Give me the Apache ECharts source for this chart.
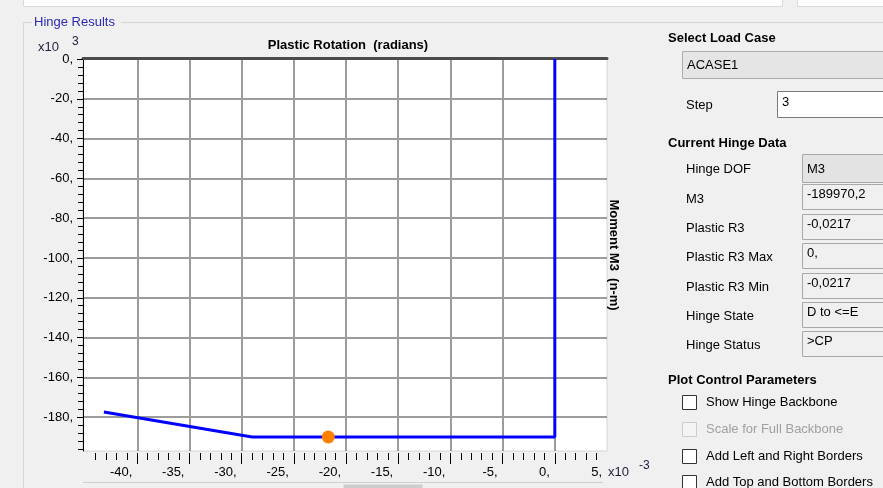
<!DOCTYPE html>
<html>
<head>
<meta charset="utf-8">
<script src="https://cdn.jsdelivr.net/npm/echarts@6/dist/echarts.min.js"></script>
<style>
  html, body { margin: 0; padding: 0; background: #f0f0f0; }
  #chart { width: 883px; height: 488px; }
</style>
</head>
<body>
<div id="chart"></div>
<script>
// Hinge response path (plastic rotation in 1e-3 rad, moment in 1e3 N-m)
const rotationPath = [0, 0, -29.0, -43.2];
const momentPath = [0, -189.97, -189.97, -177.4];

// Current step state of the hinge
const currentRotation = [-21.7];
const currentMoment = [-189.9702];

// Axis ticks
const xMajorTicks = [-40, -35, -30, -25, -20, -15, -10, -5, 0];
const xLabelValues = [-40, -35, -30, -25, -20, -15, -10, -5, 0, 5];
const yMajorTicks = [0, -20, -40, -60, -80, -100, -120, -140, -160, -180];

// Side panel contents
const loadCase = 'ACASE1';
const stepValue = '3';
const hingeFieldLabels = ['Hinge DOF', 'M3', 'Plastic R3', 'Plastic R3 Max', 'Plastic R3 Min', 'Hinge State', 'Hinge Status'];
const hingeFieldValues = ['M3', '-189970,2', '-0,0217', '0,', '-0,0217', 'D to <=E', '>CP'];
const plotOptions = ['Show Hinge Backbone', 'Scale for Full Backbone', 'Add Left and Right Borders', 'Add Top and Bottom Borders'];
const plotOptionsEnabled = [true, false, true, true];

function range(from, to, step) {
  const out = [];
  for (let v = from; step > 0 ? v <= to : v >= to; v += step) out.push(v);
  return out;
}
const xMinorTicks = range(-44, 4, 1);
const yMinorTicks = range(0, -196, -4);

const FONT = '"Liberation Sans", Arial, sans-serif';
const font = (size, bold) => (bold ? 'bold ' : '') + size + 'px ' + FONT;

const chart = echarts.init(document.getElementById('chart'), null, { renderer: 'canvas' });

const linePoints = rotationPath.map((r, i) => [r, momentPath[i]]);
const currentPoints = currentRotation.map((r, i) => [r, currentMoment[i]]);

// ---------- dialog chrome drawn around the plot ----------
const g = [];
function text(str, x, y, opts) {
  g.push(Object.assign({
    type: 'text', z: 50, silent: true,
    style: Object.assign({
      text: str, x: x, y: y, font: font(13, false), fill: '#000',
      textAlign: 'left', textVerticalAlign: 'middle'
    }, opts || {})
  }));
}
function rect(x, y, w, h, fill, stroke, z) {
  g.push({
    type: 'rect', z: z || 40, silent: true,
    shape: { x: x + 0.5, y: y + 0.5, width: w, height: h },
    style: { fill: fill, stroke: stroke || null, lineWidth: 1 }
  });
}
function line(x1, y1, x2, y2, color, w) {
  g.push({
    type: 'line', z: 40, silent: true,
    shape: { x1: x1, y1: y1, x2: x2, y2: y2 },
    style: { stroke: color, lineWidth: w || 1 }
  });
}

// strip of controls above the group box
rect(23, -1, 759, 7, '#ffffff', '#d9d9d9', 5);
rect(797, -1, 90, 7, '#ffffff', '#d9d9d9', 5);

// group box frame
line(23.5, 22.5, 32, 22.5, '#d5d5d5');
line(121, 22.5, 883, 22.5, '#d5d5d5');
line(23.5, 22.5, 23.5, 488, '#d5d5d5');
text('Hinge Results', 34, 22, { fill: '#2a2ab4', font: font(13, false) });

// plot captions
text('x10', 38, 47, { fill: '#1e1e3c' });
text('3', 72, 42, { fill: '#1e1e3c', font: font(12, false) });
text('x10', 608, 472, { fill: '#1e1e3c' });
text('-3', 639, 466, { fill: '#1e1e3c', font: font(12, false) });
g.push({
  type: 'text', z: 50, silent: true, x: 614, y: 255, rotation: -Math.PI / 2,
  style: { text: 'Moment M3  (n-m)', x: 0, y: 0, font: font(13, true), fill: '#000',
           textAlign: 'center', textVerticalAlign: 'middle' }
});

// horizontal scrollbar under the plot
line(83, 482.5, 603, 482.5, '#d0d0d0');
rect(343, 484, 79, 6, '#cdcdcd', null);

// side panel
text('Select Load Case', 668, 38, { font: font(13, true) });
rect(682, 51, 210, 27, '#e5e5e5', '#adadad');
text(loadCase, 687, 65);
text('Step', 686, 105);
rect(777, 91, 120, 26, '#ffffff', '#7a7a7a');
text(stepValue, 782, 102);

text('Current Hinge Data', 668, 143, { font: font(13, true) });
const rowLabelY = [169, 199, 228, 257, 287, 316, 345];
const rowBoxTop = [154, 184, 214, 243, 273, 302, 331];
hingeFieldLabels.forEach((lab, i) => {
  text(lab, 686, rowLabelY[i]);
  const first = i === 0;
  rect(802, rowBoxTop[i], 100, first ? 28 : 25, first ? '#e3e3e3' : '#f0f0f0', '#a8a8a8');
  text(hingeFieldValues[i], 807, first ? rowLabelY[i] : rowBoxTop[i] + 10);
});

text('Plot Control Parameters', 668, 380, { font: font(13, true) });
const optTextY = [402, 429, 456, 482];
plotOptions.forEach((lab, i) => {
  const on = plotOptionsEnabled[i];
  rect(682, optTextY[i] - 7, 14, 14, on ? '#ffffff' : '#f4f4f4', on ? '#333333' : '#cccccc');
  text(lab, 706, optTextY[i], { fill: on ? '#000' : '#a0a0a0' });
});

// ---------- chart ----------
const tickLabelStyle = { color: '#000', fontFamily: FONT, fontSize: 13 };

const option = {
  animation: false,
  backgroundColor: '#f0f0f0',
  title: {
    text: 'Plastic Rotation  (radians)',
    left: 343, top: 34, textAlign: 'center',
    textStyle: { fontFamily: FONT, fontSize: 13, fontWeight: 'bold', color: '#000' }
  },
  grid: {
    left: 83, top: 59, width: 524, height: 392,
    show: true, backgroundColor: '#ffffff', borderColor: '#d4d4d4', borderWidth: 1
  },
  xAxis: [
    {
      type: 'value', position: 'bottom', min: -45.2, max: 5, offset: 2,
      axisLine: { show: false, onZero: false },
      axisTick: { show: true, inside: false, length: 11, customValues: xMajorTicks,
                  lineStyle: { color: '#000', width: 1 } },
      axisLabel: Object.assign({ customValues: xLabelValues, margin: 13, align: 'right',
                  padding: [0, 5, 0, 0], formatter: v => v + ',' }, tickLabelStyle),
      splitLine: { show: true, lineStyle: { color: '#9c9c9c', width: 2 } }
    },
    {
      type: 'value', position: 'bottom', min: -45.2, max: 5, offset: 2,
      axisLine: { show: false, onZero: false },
      axisTick: { show: true, inside: false, length: 7, customValues: xMinorTicks,
                  lineStyle: { color: '#000', width: 1 } },
      axisLabel: { show: false },
      splitLine: { show: false }
    },
    {
      type: 'value', position: 'top', min: -45.2, max: 5, offset: 1,
      axisLine: { show: true, onZero: false, lineStyle: { color: '#4c4c4c', width: 3 } },
      axisTick: { show: false }, axisLabel: { show: false }, splitLine: { show: false }
    }
  ],
  yAxis: [
    {
      type: 'value', position: 'left', min: -197, max: 0,
      axisLine: { show: true, onZero: false, lineStyle: { color: '#000', width: 1 } },
      axisTick: { show: true, inside: false, length: 6, customValues: yMajorTicks,
                  lineStyle: { color: '#000', width: 1 } },
      axisLabel: Object.assign({ customValues: yMajorTicks, margin: 10,
                  padding: [6, 0, 0, 0], formatter: v => v + ',' }, tickLabelStyle),
      splitLine: { show: true, lineStyle: { color: '#9c9c9c', width: 2 } }
    },
    {
      type: 'value', position: 'left', min: -197, max: 0,
      axisLine: { show: false, onZero: false },
      axisTick: { show: true, inside: false, length: 5, customValues: yMinorTicks,
                  lineStyle: { color: '#000', width: 1 } },
      axisLabel: { show: false },
      splitLine: { show: false }
    }
  ],
  series: [
    {
      name: 'Hinge path', type: 'line', xAxisIndex: 0, yAxisIndex: 0,
      data: linePoints, symbol: 'none', z: 3,
      lineStyle: { color: '#0000ff', width: 3 }
    },
    {
      name: 'Current step', type: 'scatter', xAxisIndex: 0, yAxisIndex: 0,
      data: currentPoints, symbol: 'circle', symbolSize: 13, z: 4,
      itemStyle: { color: '#ff8000', opacity: 1 }
    }
  ],
  graphic: { elements: g }
};

chart.setOption(option);
</script>
</body>
</html>
